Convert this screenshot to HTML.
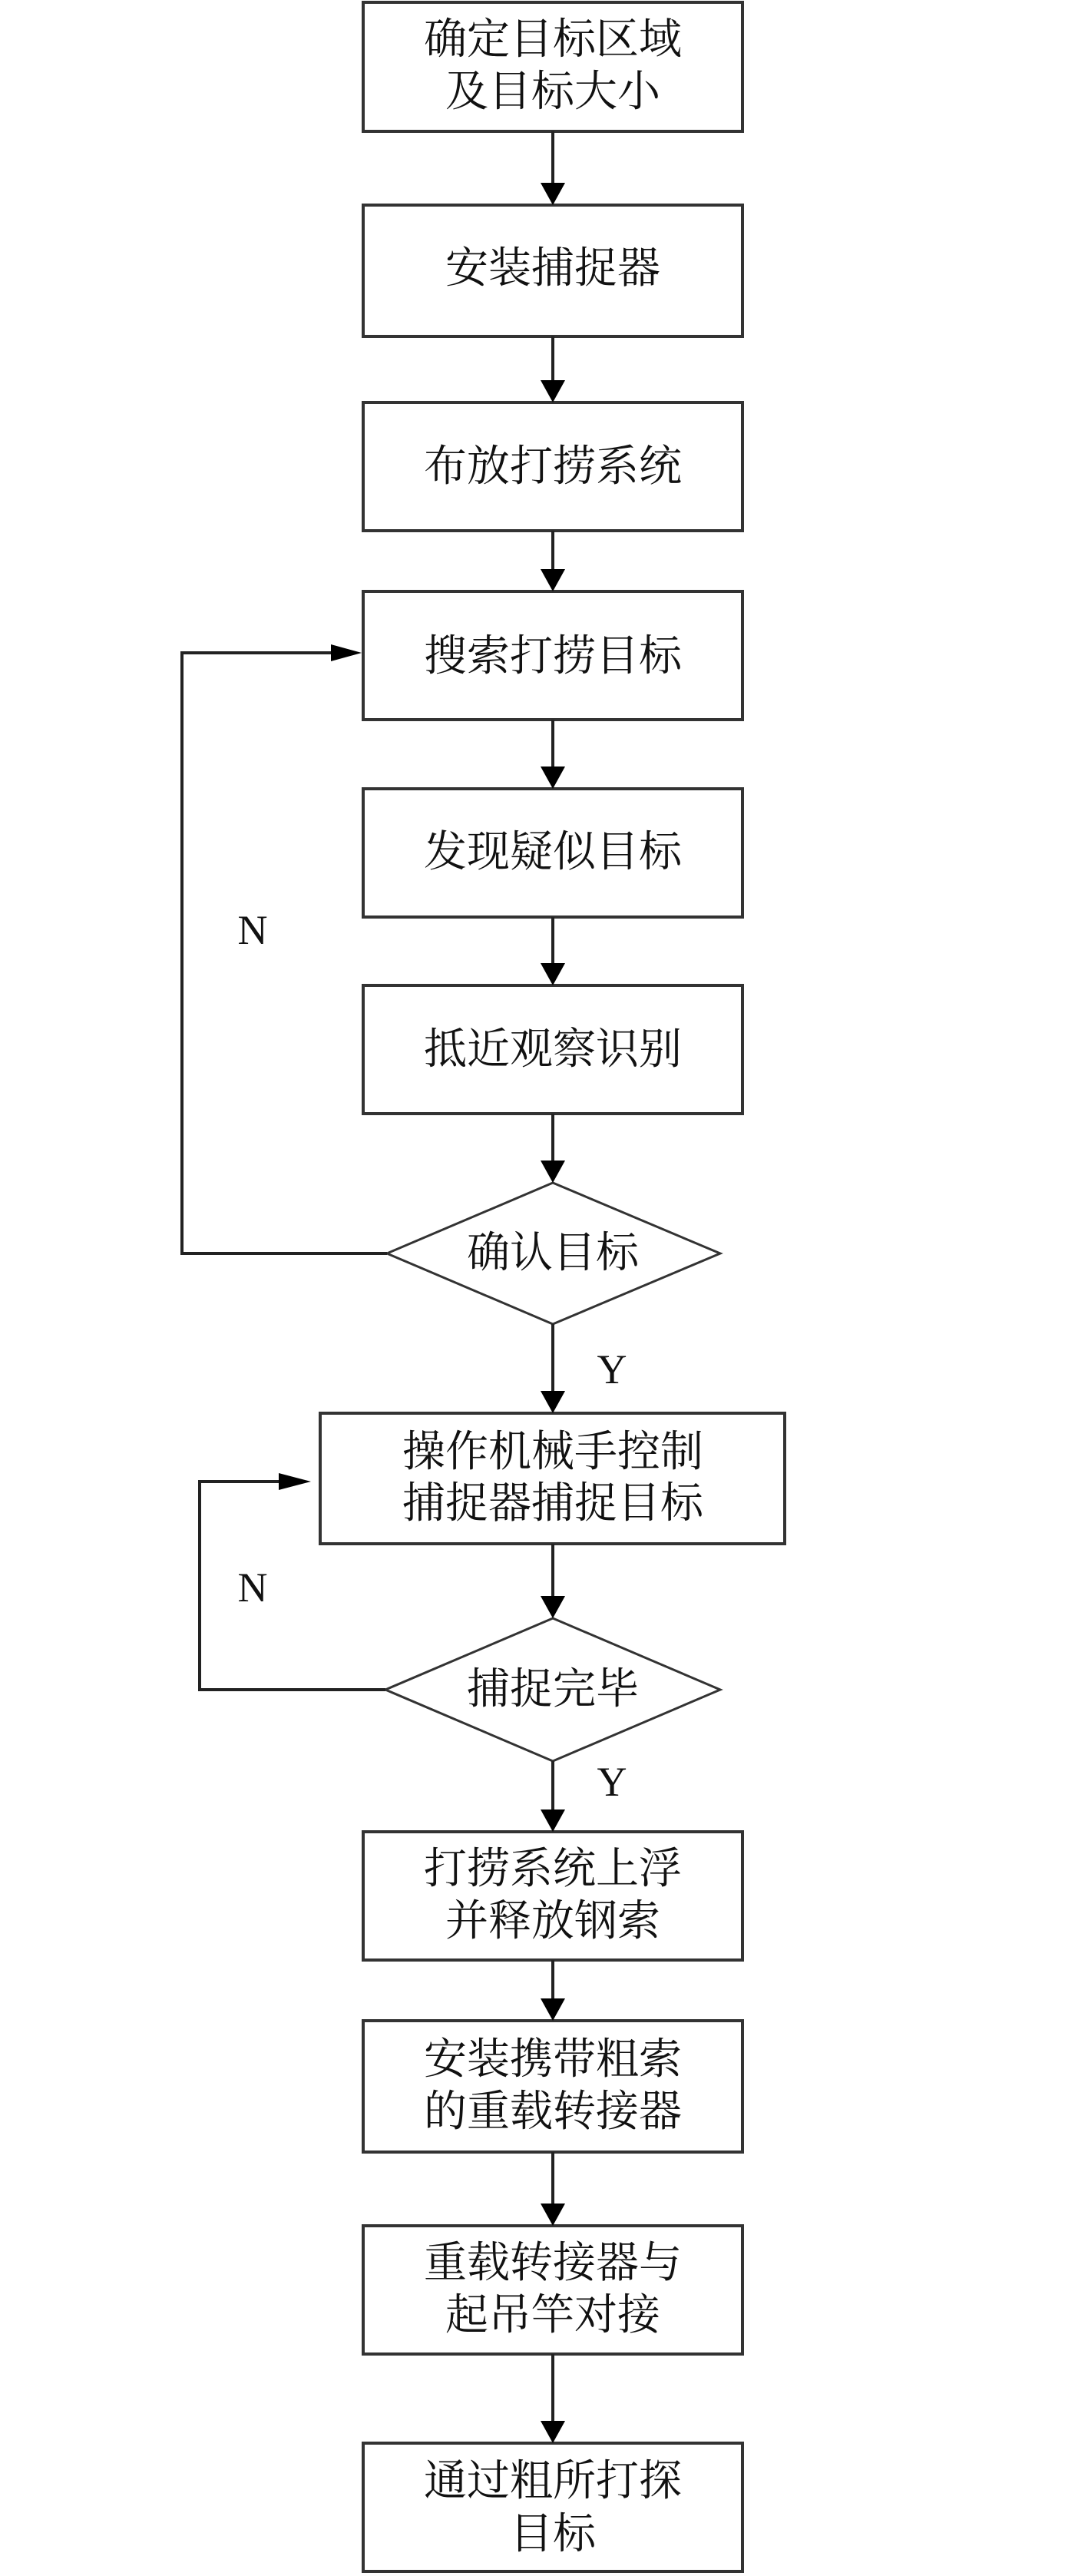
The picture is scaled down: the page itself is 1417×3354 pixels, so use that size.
<!DOCTYPE html>
<html><head><meta charset="utf-8"><style>
html,body{margin:0;padding:0;background:#fff}
svg{display:block}
text{font-family:"Liberation Serif","Noto Serif CJK SC",serif;fill:#111}
.t{font-size:56px;text-anchor:middle;dominant-baseline:central}
.l{font-size:54px;text-anchor:middle;dominant-baseline:central}
</style></head><body>
<svg width="1417" height="3354" viewBox="0 0 1417 3354" xmlns="http://www.w3.org/2000/svg">
<defs><marker id="a" markerWidth="10" markerHeight="10" refX="10" refY="5" orient="auto" markerUnits="userSpaceOnUse" viewBox="0 0 10 10"></marker></defs>
<g fill="none" stroke="#333" stroke-width="4">
<rect x="473" y="3" width="494" height="168"/>
<rect x="473" y="267" width="494" height="171"/>
<rect x="473" y="524" width="494" height="167"/>
<rect x="473" y="770" width="494" height="167"/>
<rect x="473" y="1027" width="494" height="167"/>
<rect x="473" y="1283" width="494" height="167"/>
<polygon points="720,1540 938,1632 720,1724 504,1632" stroke-width="3"/>
<rect x="417" y="1840" width="605" height="170"/>
<polygon points="720,2107 938,2200 720,2293 502,2200" stroke-width="3"/>
<rect x="473" y="2385" width="494" height="167"/>
<rect x="473" y="2631" width="494" height="171"/>
<rect x="473" y="2898" width="494" height="167"/>
<rect x="473" y="3181" width="494" height="167"/>
</g>
<g stroke="#222" stroke-width="4" fill="none">
<line x1="720" y1="171" x2="720" y2="240"/>
<line x1="720" y1="438" x2="720" y2="497"/>
<line x1="720" y1="691" x2="720" y2="743"/>
<line x1="720" y1="937" x2="720" y2="1000"/>
<line x1="720" y1="1194" x2="720" y2="1256"/>
<line x1="720" y1="1450" x2="720" y2="1513"/>
<line x1="720" y1="1724" x2="720" y2="1813"/>
<line x1="720" y1="2010" x2="720" y2="2080"/>
<line x1="720" y1="2293" x2="720" y2="2358"/>
<line x1="720" y1="2552" x2="720" y2="2604"/>
<line x1="720" y1="2802" x2="720" y2="2871"/>
<line x1="720" y1="3065" x2="720" y2="3154"/>
<polyline points="504,1632 237,1632 237,850 435,850"/>
<polyline points="502,2200 260,2200 260,1929 367,1929"/>
</g>
<g fill="#000">
<polygon points="704,238 736,238 720,267"/>
<polygon points="704,495 736,495 720,524"/>
<polygon points="704,741 736,741 720,770"/>
<polygon points="704,998 736,998 720,1027"/>
<polygon points="704,1254 736,1254 720,1283"/>
<polygon points="704,1511 736,1511 720,1540"/>
<polygon points="704,1811 736,1811 720,1840"/>
<polygon points="704,2078 736,2078 720,2107"/>
<polygon points="704,2356 736,2356 720,2385"/>
<polygon points="704,2602 736,2602 720,2631"/>
<polygon points="704,2869 736,2869 720,2898"/>
<polygon points="704,3152 736,3152 720,3181"/>
<polygon points="431,839 431,861 471,850"/>
<polygon points="363,1918 363,1940 405,1929"/>
</g>
<text class="t" x="720" y="52">确定目标区域</text>
<text class="t" x="720" y="120">及目标大小</text>
<text class="t" x="720" y="350">安装捕捉器</text>
<text class="t" x="720" y="608">布放打捞系统</text>
<text class="t" x="720" y="855">搜索打捞目标</text>
<text class="t" x="720" y="1110">发现疑似目标</text>
<text class="t" x="720" y="1367">抵近观察识别</text>
<text class="t" x="720" y="1632">确认目标</text>
<text class="t" x="720" y="1891">操作机械手控制</text>
<text class="t" x="720" y="1958">捕捉器捕捉目标</text>
<text class="t" x="720" y="2200">捕捉完毕</text>
<text class="t" x="720" y="2434">打捞系统上浮</text>
<text class="t" x="720" y="2502">并释放钢索</text>
<text class="t" x="720" y="2682">安装携带粗索</text>
<text class="t" x="720" y="2750">的重载转接器</text>
<text class="t" x="720" y="2947">重载转接器与</text>
<text class="t" x="720" y="3015">起吊竿对接</text>
<text class="t" x="720" y="3231">通过粗所打探</text>
<text class="t" x="720" y="3300">目标</text>
<text class="l" x="329" y="1211">N</text>
<text class="l" x="329" y="2067">N</text>
<text class="l" x="797" y="1783">Y</text>
<text class="l" x="797" y="2320">Y</text>
</svg>
</body></html>
